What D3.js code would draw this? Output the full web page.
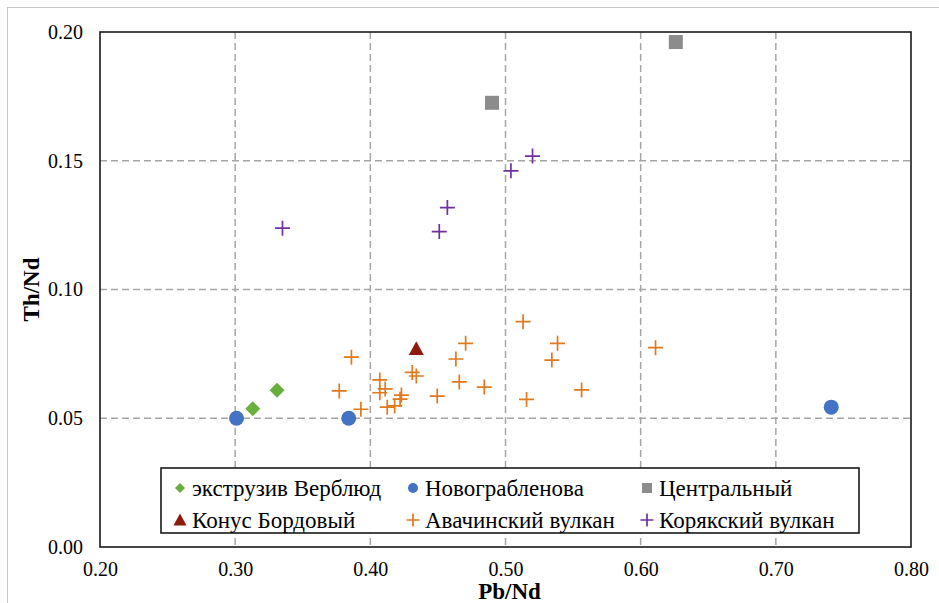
<!DOCTYPE html>
<html>
<head>
<meta charset="utf-8">
<script src="https://cdn.jsdelivr.net/npm/d3@7"></script>
<style>
  html, body { margin: 0; padding: 0; background: #fff; }
  svg { display: block; }
  text { font-family: "Liberation Serif", "Times New Roman", "DejaVu Serif", serif; fill: #000; }
</style>
</head>
<body>
<svg id="chart" width="939" height="603" font-family="Liberation Serif"></svg>
<script>
// Pb/Nd vs Th/Nd ratios by volcanic group
const verbludPb = [0.313, 0.331];
const verbludTh = [0.0537, 0.0609];

const novograblenovaPb = [0.301, 0.384, 0.741];
const novograblenovaTh = [0.0500, 0.0500, 0.0543];

const centralPb = [0.490, 0.626];
const centralTh = [0.1725, 0.1961];

const bordovyPb = [0.434];
const bordovyTh = [0.0770];

const avachaPb = [0.386, 0.377, 0.393, 0.407, 0.407, 0.411, 0.4125, 0.418, 0.422, 0.423,
                  0.431, 0.434, 0.4495, 0.4633, 0.4705, 0.4658, 0.4843, 0.513, 0.5156,
                  0.5343, 0.5385, 0.5563, 0.611];
const avachaTh = [0.0737, 0.0606, 0.0535, 0.0649, 0.0599, 0.0614, 0.0543, 0.0548, 0.0574, 0.0590,
                  0.0678, 0.0664, 0.0586, 0.0730, 0.0791, 0.0641, 0.0621, 0.0875, 0.0573,
                  0.0726, 0.0791, 0.0610, 0.0774];

const koryakPb = [0.335, 0.451, 0.457, 0.504, 0.520];
const koryakTh = [0.1238, 0.1225, 0.1318, 0.1461, 0.1518];

const xTicks = [0.20, 0.30, 0.40, 0.50, 0.60, 0.70, 0.80];
const yTicks = [0.00, 0.05, 0.10, 0.15, 0.20];

const seriesNames = ["экструзив Верблюд", "Новограбленова", "Центральный",
                     "Конус Бордовый", "Авачинский вулкан", "Корякский вулкан"];
const seriesColors = ["#6aaf3d", "#4472c4", "#8c8c8c", "#8e1a0c", "#e07a1f", "#7030a0"];
const seriesShapes = ["diamond", "circle", "square", "triangle", "cross", "cross"];
const seriesX = [verbludPb, novograblenovaPb, centralPb, bordovyPb, avachaPb, koryakPb];
const seriesY = [verbludTh, novograblenovaTh, centralTh, bordovyTh, avachaTh, koryakTh];

const svg = d3.select("#chart");
const plot = { left: 100, right: 911, top: 32, bottom: 547 };

const x = d3.scaleLinear().domain([0.2, 0.8]).range([plot.left, plot.right]);
const y = d3.scaleLinear().domain([0, 0.2]).range([plot.bottom, plot.top]);

// outer chart frame
svg.append("rect")
  .attr("x", 7.5).attr("y", 7.5).attr("width", 960).attr("height", 620)
  .attr("fill", "none").attr("stroke", "#c8c8c8").attr("stroke-width", 1);

// gridlines
const gridStyle = g => g.attr("stroke", "#a6a6a6").attr("stroke-width", 1.5).attr("stroke-dasharray", "7,4");
svg.append("g").selectAll("line")
  .data(yTicks.filter(v => v > 0 && v < 0.2))
  .join("line")
  .attr("x1", plot.left).attr("x2", plot.right)
  .attr("y1", d => y(d)).attr("y2", d => y(d))
  .call(gridStyle);
svg.append("g").selectAll("line")
  .data(xTicks.filter(v => v > 0.2 && v < 0.8))
  .join("line")
  .attr("y1", plot.top).attr("y2", plot.bottom)
  .attr("x1", d => x(d)).attr("x2", d => x(d))
  .call(gridStyle);

// plot border
svg.append("rect")
  .attr("x", plot.left).attr("y", plot.top)
  .attr("width", plot.right - plot.left).attr("height", plot.bottom - plot.top)
  .attr("fill", "none").attr("stroke", "#1a1a1a").attr("stroke-width", 1.6);

// axes (labels only, the frame draws the lines)
const xAxis = d3.axisBottom(x).tickValues(xTicks).tickFormat(d3.format(".2f")).tickSize(0).tickPadding(15);
const yAxis = d3.axisLeft(y).tickValues(yTicks).tickFormat(d3.format(".2f")).tickSize(0).tickPadding(17);
const gx = svg.append("g").attr("transform", `translate(0,${plot.bottom})`).call(xAxis);
const gy = svg.append("g").attr("transform", `translate(${plot.left},0)`).call(yAxis);
[gx, gy].forEach(g => {
  g.attr("font-family", null).attr("font-size", null);
  g.select(".domain").remove();
  g.selectAll("text").attr("font-size", 20).attr("fill", "#000");
});

// axis titles
svg.append("text")
  .attr("x", (plot.left + plot.right) / 2 + 4).attr("y", 599)
  .attr("text-anchor", "middle").attr("font-size", 23).attr("font-weight", "bold")
  .text("Pb/Nd");
svg.append("text")
  .attr("transform", `translate(39,${(plot.top + plot.bottom) / 2}) rotate(-90)`)
  .attr("text-anchor", "middle").attr("font-size", 23).attr("font-weight", "bold")
  .text("Th/Nd");

// marker drawing
function drawMarker(sel, shape, color, s) {
  if (shape === "circle") {
    sel.append("circle").attr("r", s / 2).attr("fill", color);
  } else if (shape === "square") {
    sel.append("rect").attr("x", -s / 2).attr("y", -s / 2).attr("width", s).attr("height", s).attr("fill", color);
  } else if (shape === "diamond") {
    const h = s / 2;
    sel.append("path").attr("d", `M0,${-h}L${h},0L0,${h}L${-h},0Z`).attr("fill", color);
  } else if (shape === "triangle") {
    const h = s / 2;
    sel.append("path").attr("d", `M0,${-h}L${h},${h * 0.85}L${-h},${h * 0.85}Z`).attr("fill", color);
  } else if (shape === "cross") {
    const h = s / 2;
    sel.append("path").attr("d", `M${-h},0H${h}M0,${-h}V${h}`)
      .attr("stroke", color).attr("stroke-width", 1.7).attr("fill", "none");
  }
}

const markerSize = { circle: 15, square: 14, diamond: 15, triangle: 15, cross: 15 };

seriesX.forEach((xs, i) => {
  const pts = xs.map((v, j) => [v, seriesY[i][j]]);
  svg.append("g").selectAll("g")
    .data(pts)
    .join("g")
    .attr("transform", d => `translate(${x(d[0])},${y(d[1])})`)
    .each(function () { drawMarker(d3.select(this), seriesShapes[i], seriesColors[i], markerSize[seriesShapes[i]]); });
});

// legend
const legend = svg.append("g");
legend.append("rect")
  .attr("x", 161).attr("y", 468).attr("width", 698).attr("height", 65)
  .attr("fill", "#fff").attr("stroke", "#1a1a1a").attr("stroke-width", 1.6);

const legendCols = [180, 413, 647];
const legendRows = [488, 520];
const legendMarkerSize = { circle: 10, square: 10, diamond: 10, triangle: 13, cross: 13 };
seriesNames.forEach((name, i) => {
  const cx = legendCols[i % 3], cy = legendRows[Math.floor(i / 3)];
  const item = legend.append("g").attr("transform", `translate(${cx},${cy})`);
  drawMarker(item, seriesShapes[i], seriesColors[i], legendMarkerSize[seriesShapes[i]]);
  item.append("text").attr("x", 12).attr("y", 8).attr("font-size", 23).text(name);
});
</script>
</body>
</html>
